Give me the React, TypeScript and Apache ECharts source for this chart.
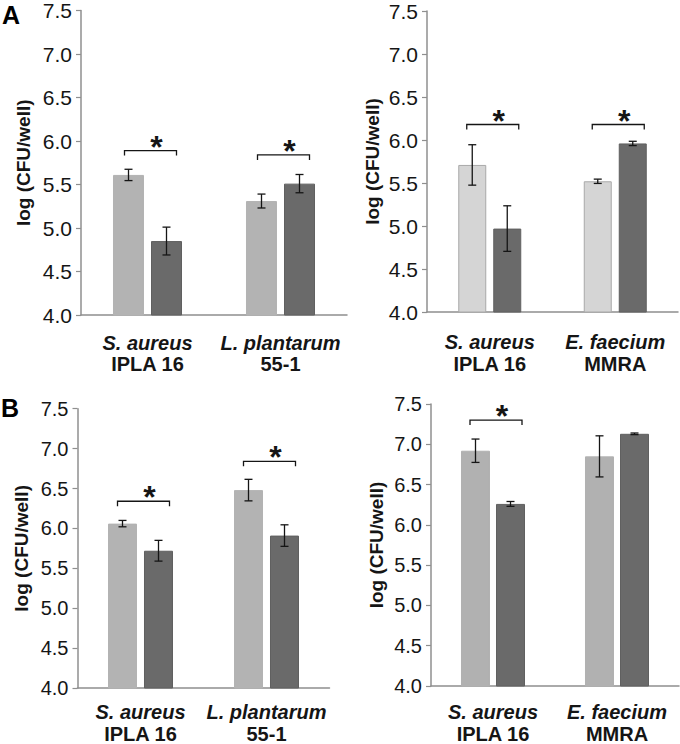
import React, { useEffect, useRef } from "react";
import * as echarts from "echarts";

const FONT = 'Arial, "Liberation Sans", Helvetica, sans-serif';

// Panel A, left
const speciesAL = ["S. aureus", "L. plantarum"];
const strainAL = ["IPLA 16", "55-1"];
const lightAL = [5.61, 5.31];
const lightErrAL = [0.065, 0.08];
const darkAL = [4.85, 5.51];
const darkErrAL = [0.16, 0.105];
const bracketAL = [5.89, 5.84];

// Panel A, right
const speciesAR = ["S. aureus", "E. faecium"];
const strainAR = ["IPLA 16", "MMRA"];
const lightAR = [5.71, 5.52];
const lightErrAR = [0.235, 0.025];
const darkAR = [4.97, 5.96];
const darkErrAR = [0.265, 0.025];
const bracketAR = [6.18, 6.18];

// Panel B, left
const speciesBL = ["S. aureus", "L. plantarum"];
const strainBL = ["IPLA 16", "55-1"];
const lightBL = [6.06, 6.48];
const lightErrBL = [0.04, 0.135];
const darkBL = [5.72, 5.91];
const darkErrBL = [0.13, 0.135];
const bracketBL = [6.34, 6.84];

// Panel B, right
const speciesBR = ["S. aureus", "E. faecium"];
const strainBR = ["IPLA 16", "MMRA"];
const lightBR = [6.92, 6.85];
const lightErrBR = [0.145, 0.255];
const darkBR = [6.26, 7.13];
const darkErrBR = [0.03, 0.01];
const bracketBR: (number | null)[] = [7.3, null];

const yMin = 4.0;
const yMax = 7.5;
const yStep = 0.5;
const yAxisTitle = "log (CFU/well)";
const panelLetters = ["A", "B"];

const panelData = [
  { species: speciesAL, strain: strainAL, light: lightAL, lightErr: lightErrAL, dark: darkAL, darkErr: darkErrAL, bracket: bracketAL },
  { species: speciesAR, strain: strainAR, light: lightAR, lightErr: lightErrAR, dark: darkAR, darkErr: darkErrAR, bracket: bracketAR },
  { species: speciesBL, strain: strainBL, light: lightBL, lightErr: lightErrBL, dark: darkBL, darkErr: darkErrBL, bracket: bracketBL },
  { species: speciesBR, strain: strainBR, light: lightBR, lightErr: lightErrBR, dark: darkBR, darkErr: darkErrBR, bracket: bracketBR },
];

const layout = [
  { left: 81, top: 9.5, width: 266, height: 305.5, bw: 31, gap: 7, light: "#b3b3b3", lightBorder: "#b3b3b3", tickFont: 21, nameGap: 48, labelMargin: 17, lh: 21 },
  { left: 427, top: 11, width: 251, height: 301, bw: 28, gap: 7, light: "#d5d5d5", lightBorder: "#a9a9a9", tickFont: 21, nameGap: 45, labelMargin: 19, lh: 22 },
  { left: 77.5, top: 408.7, width: 252, height: 280.6, bw: 29, gap: 7, light: "#b3b3b3", lightBorder: "#b3b3b3", tickFont: 20, nameGap: 47, labelMargin: 13, lh: 22 },
  { left: 431, top: 404, width: 248, height: 284.7, bw: 29, gap: 6, light: "#b1b1b1", lightBorder: "#b1b1b1", tickFont: 20, nameGap: 45, labelMargin: 15, lh: 22 },
];

const DARK = "#6a6a6a";
const INK = "#151515";

export default function App() {
  const ref = useRef<HTMLDivElement>(null);

  useEffect(() => {
    if (!ref.current) return;
    const chart = echarts.init(ref.current, undefined, { renderer: "svg" });

    const grid: any[] = [];
    const xAxis: any[] = [];
    const yAxis: any[] = [];
    const series: any[] = [];

    panelData.forEach((p, i) => {
      const L = layout[i];
      grid.push({ left: L.left, top: L.top, width: L.width, height: L.height, containLabel: false });
      xAxis.push({
        type: "category",
        gridIndex: i,
        data: p.species,
        axisLine: { lineStyle: { color: "#8f8f8f", width: 1.5 } },
        axisTick: { show: false },
        axisLabel: {
          interval: 0,
          margin: L.labelMargin,
          formatter: (_v: string, idx: number) => `{sp|${p.species[idx]}}\n{st|${p.strain[idx]}}`,
          rich: {
            sp: { fontFamily: FONT, fontSize: 20, fontWeight: "bold", fontStyle: "italic", color: INK, lineHeight: L.lh },
            st: { fontFamily: FONT, fontSize: 20, fontWeight: "bold", color: INK, lineHeight: L.lh },
          },
        },
      });
      yAxis.push({
        type: "value",
        gridIndex: i,
        min: yMin,
        max: yMax,
        interval: yStep,
        name: yAxisTitle,
        nameLocation: "middle",
        nameRotate: 90,
        nameGap: L.nameGap,
        nameTextStyle: { fontFamily: FONT, fontSize: 19, fontWeight: "bold", color: INK },
        axisLine: { show: true, lineStyle: { color: "#8f8f8f", width: 1.5 } },
        axisTick: { show: true, length: 5, lineStyle: { color: "#8f8f8f", width: 1.2 } },
        splitLine: { show: false },
        axisLabel: {
          margin: 9,
          fontFamily: FONT,
          fontSize: L.tickFont,
          color: INK,
          formatter: (v: number) => v.toFixed(1),
        },
      });

      const barGap = `${((L.gap / L.bw) * 100).toFixed(1)}%`;
      series.push({
        type: "bar",
        xAxisIndex: i,
        yAxisIndex: i,
        data: p.light,
        barWidth: L.bw,
        barGap,
        itemStyle: { color: L.light, borderColor: L.lightBorder, borderWidth: 1 },
        z: 2,
      });
      series.push({
        type: "bar",
        xAxisIndex: i,
        yAxisIndex: i,
        data: p.dark,
        barWidth: L.bw,
        barGap,
        itemStyle: { color: DARK, borderColor: "#606060", borderWidth: 1 },
        z: 2,
      });

      const offset = (L.bw + L.gap) / 2;
      const errData: any[] = [];
      p.light.forEach((v, k) => errData.push([k, v - p.lightErr[k], v + p.lightErr[k], -1]));
      p.dark.forEach((v, k) => errData.push([k, v - p.darkErr[k], v + p.darkErr[k], 1]));
      series.push({
        type: "custom",
        xAxisIndex: i,
        yAxisIndex: i,
        z: 5,
        encode: { x: 0, y: [1, 2] },
        data: errData,
        renderItem: (_params: any, api: any) => {
          const cat = api.value(0);
          const lo = api.coord([cat, api.value(1)]);
          const hi = api.coord([cat, api.value(2)]);
          const x = lo[0] + api.value(3) * offset;
          const cap = 4;
          const st = { stroke: INK, lineWidth: 1.3 };
          return {
            type: "group",
            children: [
              { type: "line", shape: { x1: x, y1: lo[1], x2: x, y2: hi[1] }, style: st },
              { type: "line", shape: { x1: x - cap, y1: lo[1], x2: x + cap, y2: lo[1] }, style: st },
              { type: "line", shape: { x1: x - cap, y1: hi[1], x2: x + cap, y2: hi[1] }, style: st },
            ],
          };
        },
      });

      const brData: any[] = [];
      p.bracket.forEach((b, k) => {
        if (b !== null && b !== undefined) brData.push([k, b]);
      });
      series.push({
        type: "custom",
        xAxisIndex: i,
        yAxisIndex: i,
        z: 5,
        encode: { x: 0, y: 1 },
        data: brData,
        renderItem: (_params: any, api: any) => {
          const cat = api.value(0);
          const pt = api.coord([cat, api.value(1)]);
          const x1 = pt[0] - 23;
          const x2 = pt[0] + 29;
          const y = pt[1];
          return {
            type: "group",
            children: [
              {
                type: "polyline",
                shape: { points: [[x1, y + 5], [x1, y], [x2, y], [x2, y + 5]] },
                style: { stroke: INK, lineWidth: 1.3, fill: "none" },
              },
              {
                type: "text",
                x: pt[0] + 9,
                y: y - 4,
                style: {
                  text: "*",
                  fontFamily: FONT,
                  fontSize: 32,
                  fontWeight: "bold",
                  fill: INK,
                  align: "center",
                  verticalAlign: "middle",
                },
              },
            ],
          };
        },
      });
    });

    chart.setOption({
      animation: false,
      backgroundColor: "#ffffff",
      grid,
      xAxis,
      yAxis,
      series,
      graphic: [
        {
          type: "text",
          left: 2,
          top: 2,
          style: { text: panelLetters[0], fontFamily: FONT, fontSize: 25, fontWeight: "bold", fill: "#000" },
        },
        {
          type: "text",
          left: 1,
          top: 395,
          style: { text: panelLetters[1], fontFamily: FONT, fontSize: 25, fontWeight: "bold", fill: "#000" },
        },
      ],
    });

    return () => chart.dispose();
  }, []);

  return (
    <div
      ref={ref}
      style={{ position: "absolute", left: 0, top: 0, width: 680, height: 744, background: "#fff" }}
    />
  );
}
